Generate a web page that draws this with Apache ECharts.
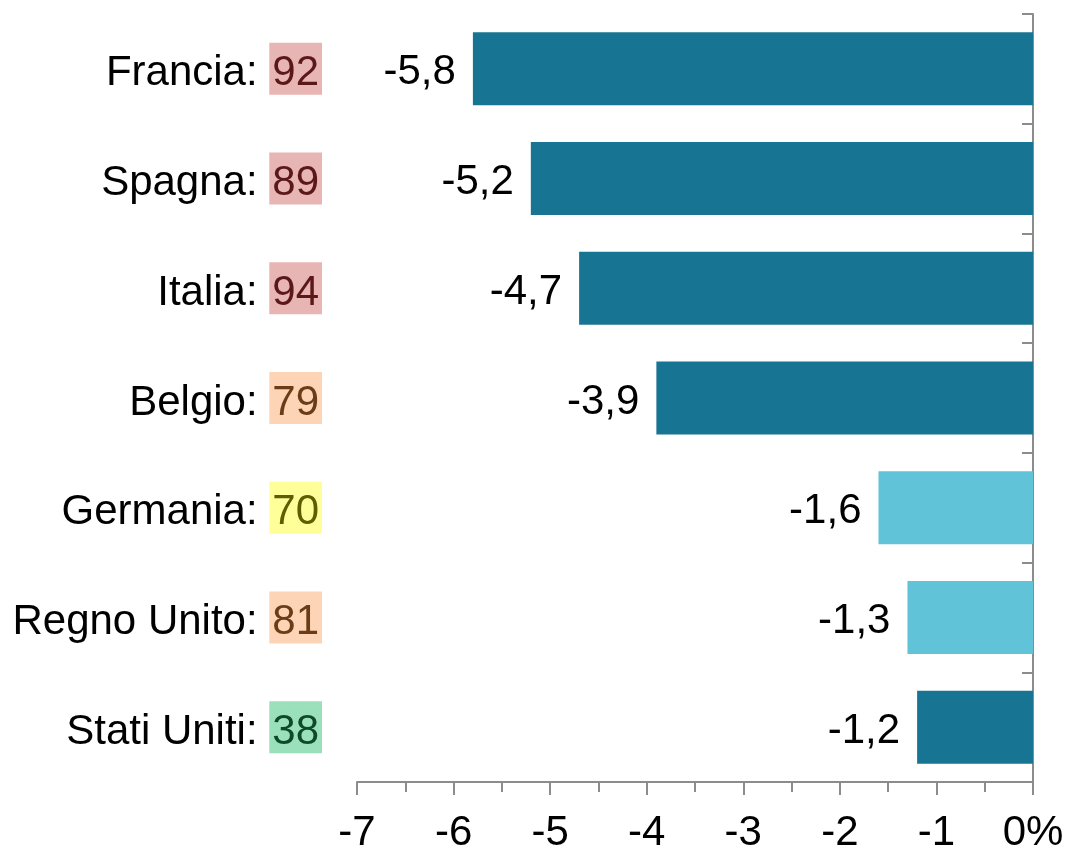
<!DOCTYPE html>
<html>
<head>
<meta charset="utf-8">
<script src="https://cdn.jsdelivr.net/npm/echarts@6/dist/echarts.min.js"></script>
<style>
    html, body { margin: 0; padding: 0; background: #fff; }
    #chart { width: 1066px; height: 848px; }
</style>
</head>
<body>
<div id="chart"></div>
<script>
// paesi (dall'alto in basso)
var categories = ['Francia', 'Spagna', 'Italia', 'Belgio', 'Germania', 'Regno Unito', 'Stati Uniti'];
// punteggio nel riquadro colorato
var scores = [92, 89, 94, 79, 70, 81, 38];
// variazione %
var values = [-5.8, -5.2, -4.7, -3.9, -1.6, -1.3, -1.2];
// barre in azzurro chiaro
var lightBars = ['Germania', 'Regno Unito'];
var xTicks = [-7, -6, -5, -4, -3, -2, -1, 0];

var FONT = '"Liberation Sans", Arial, sans-serif';
var dark = '#187493';
var light = '#60c3d8';
var axisGrey = '#8c8c8c';

// classe colore del riquadro in base al punteggio
function scoreClass(s) {
    if (s >= 85) return 'red';
    if (s >= 75) return 'orange';
    if (s >= 50) return 'yellow';
    return 'green';
}

function box(bg, fg) {
    return {
        backgroundColor: bg,
        color: fg,
        fontSize: 42,
        fontFamily: FONT,
        padding: [10, 3, 0, 3],
        lineHeight: 46
    };
}

var barData = values.map(function (v, i) {
    return {
        value: v,
        itemStyle: { color: lightBars.indexOf(categories[i]) >= 0 ? light : dark }
    };
});

var chart = echarts.init(document.getElementById('chart'));
var option = {
    animation: false,
    grid: { left: 357, right: 33, top: 14, bottom: 66, containLabel: false, outerBoundsMode: 'none' },
    xAxis: {
        type: 'value',
        min: xTicks[0],
        max: xTicks[xTicks.length - 1],
        interval: 1,
        axisLine: { show: true, lineStyle: { color: axisGrey, width: 2 } },
        axisTick: { show: true, length: 13, lineStyle: { color: axisGrey, width: 2 } },
        minorTick: { show: true, splitNumber: 2, length: 10, lineStyle: { color: axisGrey, width: 2 } },
        splitLine: { show: false },
        axisLabel: {
            color: '#000',
            fontSize: 42,
            fontFamily: FONT,
            margin: 30,
            formatter: function (v) { return v === 0 ? '0%' : String(v); }
        }
    },
    yAxis: [
        {
            // etichette dei paesi a sinistra
            type: 'category',
            data: categories,
            inverse: true,
            position: 'left',
            axisLine: { show: false },
            axisTick: { show: false },
            axisLabel: {
                margin: 35,
                fontSize: 42,
                fontFamily: FONT,
                color: '#000',
                formatter: function (name) {
                    var i = categories.indexOf(name);
                    return '{n|' + name + ': }{' + scoreClass(scores[i]) + '|' + scores[i] + '}';
                },
                rich: {
                    n: { color: '#000', fontSize: 42, fontFamily: FONT, lineHeight: 46, padding: [10, 0, 0, 0] },
                    red: box('#e8b5b5', '#5a1818'),
                    orange: box('#fdd5b6', '#6b3c18'),
                    yellow: box('#ffff99', '#5e5e00'),
                    green: box('#9ae0bb', '#0e4a28')
                }
            }
        },
        {
            // asse verticale a destra, tacche sui bordi
            type: 'category',
            data: categories,
            inverse: true,
            position: 'right',
            axisLine: { show: true, lineStyle: { color: axisGrey, width: 2 } },
            axisTick: { show: true, inside: true, length: 11, lineStyle: { color: axisGrey, width: 2 } },
            axisLabel: { show: false }
        },
        {
            // tacche al centro delle categorie
            type: 'category',
            data: categories,
            inverse: true,
            position: 'right',
            axisLine: { show: false },
            axisTick: { show: true, inside: true, alignWithLabel: true, length: 9, lineStyle: { color: axisGrey, width: 2 } },
            axisLabel: { show: false }
        }
    ],
    series: [
        {
            type: 'bar',
            yAxisIndex: 0,
            data: barData,
            barWidth: 73,
            label: {
                show: true,
                position: 'left',
                distance: 17,
                offset: [0, 4],
                color: '#000',
                fontSize: 42,
                fontFamily: FONT,
                formatter: function (p) { return String(p.value.toFixed(1)).replace('.', ','); }
            }
        }
    ]
};
chart.setOption(option);
</script>
</body>
</html>
